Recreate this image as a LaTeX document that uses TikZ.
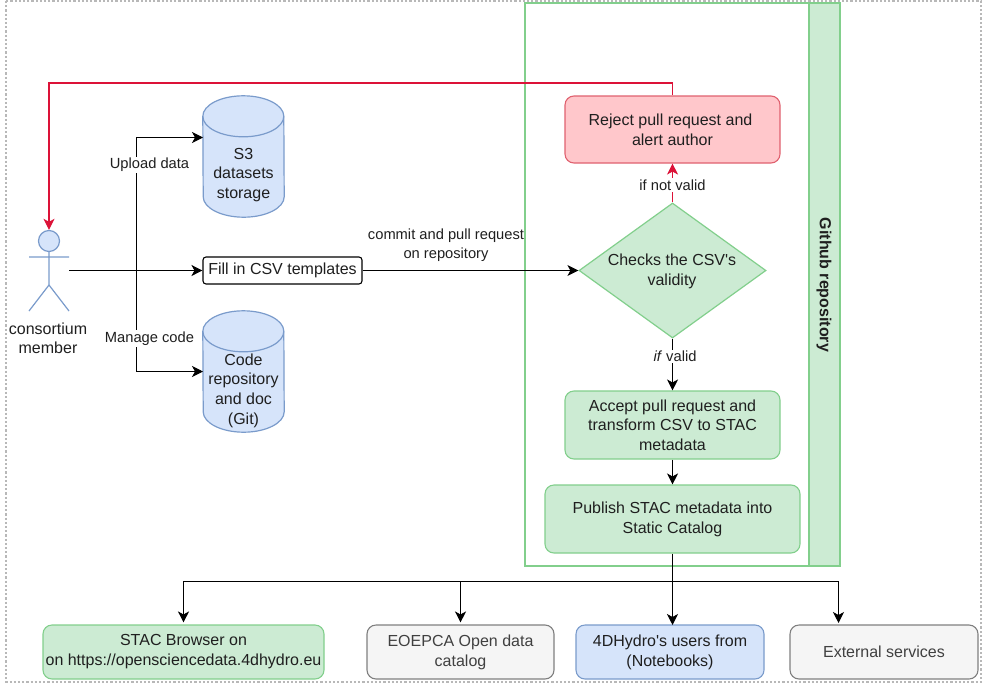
\documentclass[tikz,border=0pt]{standalone}
\usepackage{fontspec}
\setmainfont{Liberation Sans}[Ligatures=TeXOff]
\usetikzlibrary{arrows.meta,shapes.geometric,calc}
\definecolor{grn}{HTML}{CCEBD3}
\definecolor{grnd}{HTML}{82CF8C}
\definecolor{blu}{HTML}{D6E4FA}
\definecolor{blud}{HTML}{7A9BCB}
\definecolor{redf}{HTML}{FFC7CB}
\definecolor{redd}{HTML}{E0616F}
\definecolor{gryf}{HTML}{F5F5F5}
\definecolor{gryd}{HTML}{7F7F7F}
\definecolor{txt}{HTML}{1F1F1F}
\definecolor{redl}{HTML}{DC1238}
\tikzset{
  base/.style={rounded corners=9pt,line width=1.1pt,align=center,inner sep=0pt,text=txt,font=\fontsize{16}{20}\selectfont},
  greenbox/.style={base,draw=grnd,fill=grn},
  redbox/.style={base,draw=redd,fill=redf},
  bluebox/.style={base,draw=blud,fill=blu},
  graybox/.style={base,draw=gryd,fill=gryf,text=black!75},
  lab/.style={fill=white,inner sep=1.5pt,text=txt,align=center,font=\fontsize{14.7}{19}\selectfont},
  conn/.style={line width=1.1pt,draw=black,-{Stealth[length=11pt,width=11pt,inset=3pt]}},
  redconn/.style={line width=1.1pt,draw=redl,-{Stealth[length=11pt,width=11pt,inset=3pt,fill=redl]}},
  dbbox/.style={minimum width=81pt,minimum height=121pt,inner sep=0pt},
  dbtext/.style={align=center,text=txt,font=\fontsize{16}{19.6}\selectfont},
  person/.style={draw=blud,line width=1.2pt},
}
\newcommand{\dbshape}[1]{%
  \path[draw=blud,fill=blu,line width=1.2pt] ($(#1.north west)+(0,20.5)$)
    arc[start angle=180,end angle=0,x radius=40.5pt,y radius=20.5pt]
    -- ($(#1.south east)+(0,-20.5)$)
    arc[start angle=360,end angle=180,x radius=40.5pt,y radius=20.5pt]
    -- cycle;
  \path[draw=blud,line width=1.2pt] ($(#1.north west)+(0,20.5)$)
    arc[start angle=180,end angle=360,x radius=40.5pt,y radius=20.5pt];}
\begin{document}
\begin{tikzpicture}[x=1pt,y=-1pt]
\useasboundingbox (0,0) rectangle (984,685);
\path[draw=black!28,line width=2.2pt,dash pattern=on 2.2pt off 2pt] (6,1) rectangle (981,682);
% github container
\node[draw=grnd,line width=1.2pt,fill=white,inner sep=0pt,minimum width=315pt,minimum height=563pt] (repo) at (682.5,284.5) {};
\node[draw=grnd,line width=1.2pt,fill=grn,inner sep=0pt,minimum width=31pt,minimum height=563pt] (repohead) at (824.5,284.5) {};
\node[rotate=-90,font=\fontsize{16}{18}\selectfont\bfseries,text=txt] (repotitle) at (824,285) {Github repository};
% process
\node[redbox,minimum width=215pt,minimum height=67pt] (reject) at (672.5,129.5) {Reject pull request and\hspace*{4pt}\\alert author};
\node[shape=diamond,draw=grnd,fill=grn,line width=1.2pt,inner sep=0pt,shape aspect=1.385,minimum width=187pt,minimum height=135pt] (check) at (672.5,270.5) {};
\node[align=center,text=txt,font=\fontsize{16}{20}\selectfont] (checktext) at (672,271.5) {Checks the CSV's\\validity};
\node[greenbox,minimum width=215pt,minimum height=68pt,font=\fontsize{16}{19.3}\selectfont] (accept) at (672.5,425) {Accept pull request and\\transform CSV to STAC\\metadata};
\node[greenbox,minimum width=255pt,minimum height=68pt] (publish) at (672.5,519) {\raisebox{-1pt}{Publish STAC metadata into}\\\raisebox{-1pt}{Static Catalog}};
% bottom
\node[greenbox,minimum width=281pt,minimum height=54pt] (browser) at (183.5,652) {\raisebox{-1pt}{STAC Browser on}\\\raisebox{-1pt}{on https://opensciencedata.4dhydro.eu}};
\node[graybox,minimum width=187pt,minimum height=54pt] (eoepca) at (460.5,652) {EOEPCA Open data\\catalog};
\node[bluebox,minimum width=188pt,minimum height=54pt] (users) at (670,652) {\raisebox{-1pt}{4DHydro's users from}\\\raisebox{-1pt}{(Notebooks)}};
\node[graybox,minimum width=188pt,minimum height=54pt] (external) at (884,652) {External services};
% stores
\node[dbbox] (s3) at (243.5,156.5) {};
\dbshape{s3}
\node[dbtext] (s3text) at (243.5,175) {S3\\datasets\\storage};
\node[dbbox] (code) at (243.5,371.5) {};
\dbshape{code}
\node[dbtext] (codetext) at (243.5,390.5) {Code\\repository\\and doc\\(Git)};
\node[draw=black,line width=1.1pt,fill=white,rounded corners=3pt,inner sep=0pt,minimum width=159pt,minimum height=27pt,text=txt,font=\fontsize{16}{18}\selectfont] (fill) at (282.5,270.5) {\raisebox{-1pt}{Fill in CSV templates}};
% actor
\node[minimum width=40pt,minimum height=81pt,inner sep=0pt] (actor) at (49,270.5) {};
\node[circle,draw=blud,fill=blu,line width=1.2pt,minimum size=21pt,inner sep=0pt] (head) at (49,241) {};
\draw[person] (head.south) -- (49,285) (29,257) -- (69,257) (29,311) -- (49,285) -- (69,311);
\node[align=center,text=txt,font=\fontsize{16}{19.4}\selectfont] (actorlabel) at (48,338.5) {consortium\\member};
% helper points
\coordinate (split) at (136.5,270.5);
\coordinate (s3in) at (203,137.5);
\coordinate (codein) at (203,371.5);
\coordinate (bus) at (672.5,581.5);
% connectors
\draw[redconn] (reject.north) -- (672.5,83) -| (actor.north);
\draw[conn] (actor.east) -- (fill.west);
\draw[conn] (split) |- (s3in);
\draw[conn] (split) |- (codein);
\node[lab] (uplabel) at (149.5,165) {Upload data};
\node[lab] (manlabel) at (149.5,338.5) {Manage code};
\draw[conn] (fill.east) -- (check.west);
\node[font=\fontsize{14.7}{19}\selectfont,align=center,text=txt,inner sep=0pt] (commitlabel) at (446,245) {commit and pull request\\on repository};
\draw[redconn] (check.north) -- (reject.south);
\node[lab] (notvalid) at (672.5,185) {if not valid};
\draw[conn] (check.south) -- (accept.north);
\node[lab] (valid) at (675,356.5) {\textit{if} valid};
\draw[conn] (accept.south) -- (publish.north);
\draw[conn] (publish.south) -- (672.5,625);
\draw[conn] (bus) -| ($(browser.north)+(0,-2)$);
\draw[conn] (eoepca.north |- bus) -- ($(eoepca.north)+(0,-2)$);
\draw[conn] (bus) -| (838.5,623);
\end{tikzpicture}
\end{document}
